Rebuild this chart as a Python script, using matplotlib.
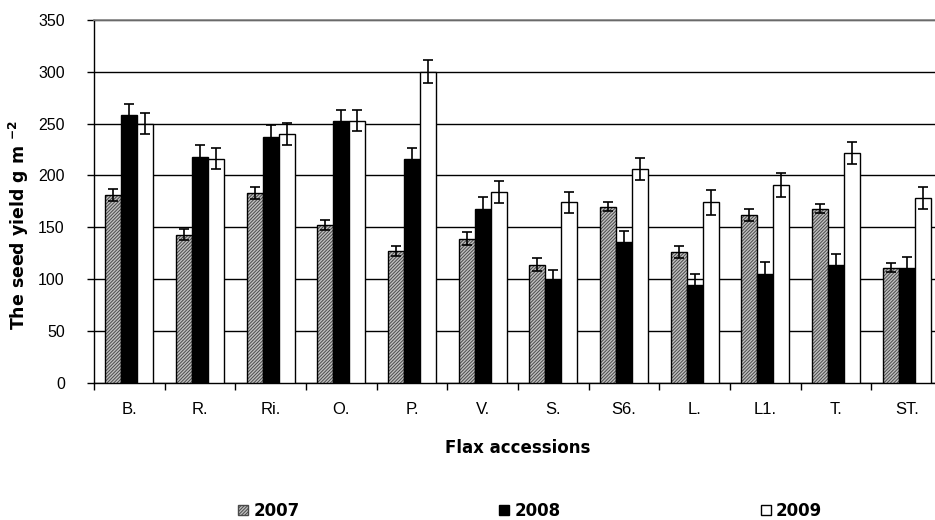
import matplotlib
matplotlib.use("Agg")
import matplotlib.pyplot as plt
from matplotlib.patches import Patch
import numpy as np

plt.rcParams['font.family'] = ['Liberation Sans', 'DejaVu Sans']
plt.rcParams['mathtext.fontset'] = 'custom'
plt.rcParams['mathtext.rm'] = 'DejaVu Sans'
plt.rcParams['mathtext.bf'] = 'DejaVu Sans:bold'
plt.rcParams['hatch.linewidth'] = 0.7
plt.rcParams['hatch.color'] = '#4a4a4a'

categories = ['B.', 'R.', 'Ri.', 'O.', 'P.', 'V.', 'S.', 'S6.', 'L.', 'L1.', 'T.', 'ST.']
years = ['2007', '2008', '2009']
y2007 = [181, 143, 183, 152, 127, 139, 114, 170, 126, 162, 168, 111]
y2008 = [258, 218, 237, 253, 216, 168, 99, 136, 94, 105, 114, 111]
y2009 = [250, 216, 240, 253, 300, 184, 174, 206, 174, 191, 222, 178]
e2007 = [6, 5, 5.5, 5, 4.5, 6, 6, 4, 5.5, 6, 4.5, 4.5]
e2008 = [11, 11, 11.5, 10, 10, 11.5, 10, 10, 10.5, 11, 10, 10]
e2009 = [10, 10, 11, 10, 11, 11, 10, 10.5, 12, 11.5, 10.5, 10.5]
yticks = [0, 50, 100, 150, 200, 250, 300, 350]

fig = plt.figure(figsize=(9.35, 5.2), dpi=100)
ax = fig.add_axes([94/935, 1-382.7/520, 848/935, (382.7-20)/520])

x = np.arange(len(categories))
w = 0.226
series = [(y2007, e2007), (y2008, e2008), (y2009, e2009)]
for i, (vals, errs) in enumerate(series):
    xs = x + (i - 1) * w
    if i == 0:
        ax.bar(xs, vals, w, facecolor='#c0c0c0', hatch='//////////',
               edgecolor='#4a4a4a', linewidth=0, zorder=3)
        ax.bar(xs, vals, w, fill=False, edgecolor='black', linewidth=1.0, zorder=3.5)
    elif i == 1:
        ax.bar(xs, vals, w, facecolor='black', edgecolor='black', linewidth=1.0, zorder=3)
    else:
        ax.bar(xs, vals, w, facecolor='white', edgecolor='black', linewidth=1.0, zorder=3)
    ax.errorbar(xs, vals, yerr=errs, fmt='none', ecolor='black', elinewidth=1.2,
                capsize=3.5, capthick=1.2, zorder=4)

handles = [Patch(facecolor='#c0c0c0', hatch='//////////', edgecolor='#4a4a4a', linewidth=1.0),
           Patch(facecolor='black', edgecolor='black', linewidth=1.0),
           Patch(facecolor='white', edgecolor='black', linewidth=1.0)]

ax.set_xlim(-0.5, len(categories) - 0.5)
ax.set_ylim(0, 350)
ax.set_yticks(yticks)
ax.tick_params(axis='y', labelsize=11.5, length=5, width=1, direction='out', pad=16)
ax.set_xticks(x)
ax.set_xticklabels(categories)
ax.tick_params(axis='x', which='major', length=0, labelsize=12, pad=14)
ax.set_xticks(np.arange(len(categories) + 1) - 0.5, minor=True)
ax.tick_params(axis='x', which='minor', length=5, width=1, direction='out')

ax.yaxis.grid(True, color='black', linewidth=1.0, zorder=0)
ax.set_axisbelow(True)
ax.spines['right'].set_visible(False)
ax.spines['top'].set_color('#808080')
ax.spines['top'].set_linewidth(1.2)
ax.spines['left'].set_linewidth(1.0)
ax.spines['bottom'].set_linewidth(1.0)

ax.set_ylabel(r'The seed yield g m $^{\mathbf{-2}}$', fontsize=12.5, fontweight='bold',
              family=['DejaVu Sans'])
ax.yaxis.set_label_coords((31 - 94) / 848, (382.7 - 225) / 362.7)
ax.set_xlabel('Flax accessions', fontsize=12, fontweight='bold', family=['DejaVu Sans'])
ax.xaxis.set_label_coords(0.5, (382.7 - 439) / 362.7)

fig.legend(handles, years, loc='center', bbox_to_anchor=(530/935, 1-511/520),
           ncol=3, frameon=False, prop={'weight': 'bold', 'size': 12, 'family': 'DejaVu Sans'},
           handlelength=0.6, handleheight=0.6, handletextpad=0.3, columnspacing=12.0)

fig.savefig('out.png', dpi=100)
